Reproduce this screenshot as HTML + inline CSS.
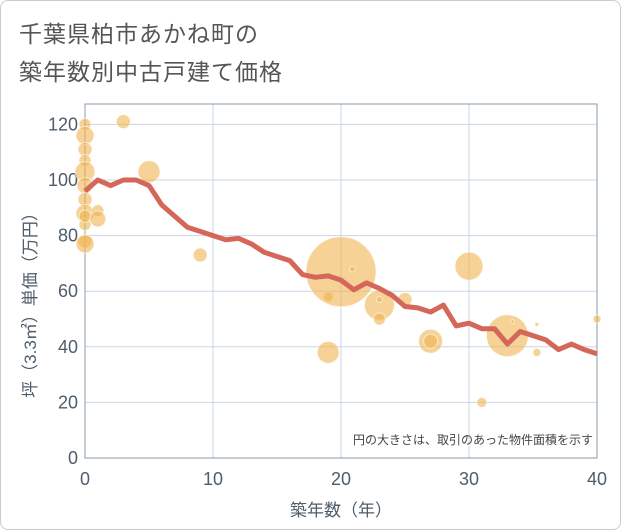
<!DOCTYPE html>
<html><head><meta charset="utf-8"><style>
body{margin:0;background:#fff;font-family:"Liberation Sans","Noto Sans CJK JP",sans-serif}
#wrap{position:relative;width:621px;height:530px;box-sizing:border-box;border:1px solid #ccc;border-radius:8px;overflow:hidden}
.t{position:absolute;left:18px;font-size:23px;color:#555;letter-spacing:1px}
</style></head><body>
<div id="wrap">
<div class="t" style="top:14px">千葉県柏市あかね町の</div>
<div class="t" style="top:52px">築年数別中古戸建て価格</div>
<svg id="svg" width="621" height="530" style="position:absolute;left:0;top:0"></svg>
</div>
<script>
const xTicks=[0,10,20,30,40];
const yTicks=[0,20,40,60,80,100,120];
const lineYears=[0,1,2,3,4,5,6,7,8,9,10,11,12,13,14,15,16,17,18,19,20,21,22,23,24,25,26,27,28,29,30,31,32,33,34,35,36,37,38,39,40];
const linePrices=[96,100,98,100,100,98,91,87,83,81.5,80,78.5,79,77,74,72.5,71,66,65,65.5,64,60.5,63,61,58.5,54.5,54,52.5,55,47.5,48.5,46.5,46.5,41,45.5,44,42.5,39,41,39,37.5];
const bubbleX=[0,0,0,0,0,0,0,0,0,0,0,0,1,1,3,5,9,19,19,20,20.9,23,23,23,25,27,27,30,31,33,33.4,35.3,35.3,40];
const bubbleY=[120,116,111,107,103,98,93,88,84,78,77,87,89,86,121,103,73,38,58,67,68,55,50,57,57,42,42,69,20,44,49,48,38,50];
const bubbleR=[6,9,7,6,10,8,7,9,6,7,9,6,6,8,7,11,7,11,5,35,3,15,6,3,7,12,7,14,5,21,2,2,4,4];
const NS="http://www.w3.org/2000/svg";
const svg=document.getElementById('svg');
const L=84,R=596,T=103,B=457;
const xs=v=>L+(v/40)*(R-L);
const ys=v=>B-v*2.78;
function mk(tag,attrs,parent){const e=document.createElementNS(NS,tag);for(const k in attrs)e.setAttribute(k,attrs[k]);(parent||svg).appendChild(e);return e;}
const grid=mk('g',{});


xTicks.forEach(v=>{const l=mk('line',{x1:xs(v),x2:xs(v),y1:T,y2:B,stroke:'#c8d6e6','stroke-width':1},grid);


const t=mk('text',{x:xs(v),y:484,'text-anchor':'middle','font-size':18,fill:'#4f5d6b'});t.textContent=v;

});
yTicks.forEach(v=>{const l=mk('line',{x1:L,x2:R,y1:ys(v),y2:ys(v),stroke:'#c8d6e6','stroke-width':1},grid);


const t=mk('text',{x:77,y:ys(v)+6,'text-anchor':'end','font-size':18,fill:'#4f5d6b'});t.textContent=v;

});
const fr=mk('rect',{x:L,y:T,width:R-L,height:B-T,fill:'none',stroke:'#8899aa','stroke-width':1});


const bg=mk('g',{});


bubbleX.forEach((x,i)=>{const c=mk('circle',{cx:xs(x),cy:ys(bubbleY[i]),r:bubbleR[i],fill:'rgba(240,180,80,0.6)',stroke:'rgba(255,255,255,0.6)','stroke-width':1},bg);

});
const p=mk('polyline',{points:lineYears.map((x,i)=>xs(x)+','+ys(linePrices[i])).join(' '),fill:'none',stroke:'#d4675a','stroke-width':5,'stroke-linejoin':'round'});


const n=mk('text',{x:592,y:443,'text-anchor':'end','font-size':12,fill:'#444'});n.textContent='円の大きさは、取引のあった物件面積を示す';


const xt=mk('text',{x:340,y:515,'text-anchor':'middle','font-size':17,fill:'#4f5d6b'});xt.textContent='築年数（年）';


const yt=mk('text',{x:0,y:0,'text-anchor':'middle','font-size':17,fill:'#4f5d6b',transform:'translate(35,300) rotate(-90)'});yt.textContent='坪（3.3㎡）単価（万円）';


</script>
</body></html>
